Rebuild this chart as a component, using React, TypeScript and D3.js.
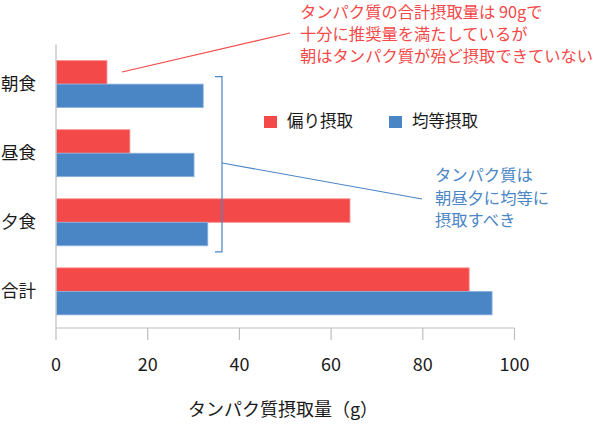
import React from "react";
import * as d3 from "d3";

const categories = ["朝食", "昼食", "夕食", "合計"];
const seriesNames = ["偏り摂取", "均等摂取"];
const biased = [11, 16, 64, 90];
const balanced = [32, 30, 33, 95];
const xTicks = [0, 20, 40, 60, 80, 100];
const xTitle = "タンパク質摂取量（g）";
const redNote = ["タンパク質の合計摂取量は 90gで", "十分に推奨量を満たしているが", "朝はタンパク質が殆ど摂取できていない"];
const blueNote = ["タンパク質は", "朝昼夕に均等に", "摂取すべき"];

const RED = "#f44949";
const BLUE = "#4a85c5";
const FONT = "'Noto Sans CJK JP', 'Noto Sans', sans-serif";

export default function App() {
  const W = 600, H = 430;
  const left = 56, right = 514.5, top = 47.5, bottom = 328;
  const x = d3.scaleLinear().domain([0, 100]).range([left, right]);
  const y = d3.scaleBand<string>().domain(categories).range([top, bottom]).paddingInner(0.32).paddingOuter(0.19);
  const bh = y.bandwidth() / 2;
  const series = [biased, balanced];
  const colors = [RED, BLUE];
  const strokes = ["#f88a8a", "#8fb3dc"];

  const bx = x(36.2);
  const bTop = (y("朝食") as number) + 16;
  const bBot = (y("夕食") as number) + y.bandwidth() + 6;

  return (
    <svg width={W} height={H} style={{ position: "absolute", left: 0, top: 0, background: "#fff" }} fontFamily={FONT}>
      {categories.map((c, i) =>
        series.map((s, k) => (
          <rect
            key={c + k}
            x={x(0) + 0.5}
            y={(y(c) as number) + k * bh}
            width={x(s[i]) - x(0)}
            height={bh}
            fill={colors[k]}
            stroke={strokes[k]}
            strokeWidth={0.8}
          />
        ))
      )}
      <line x1={x(0)} x2={x(0)} y1={top - 3} y2={bottom} stroke="#bdbdbd" strokeWidth={1.2} />
      <line x1={x(0)} x2={x(100)} y1={bottom} y2={bottom} stroke="#bdbdbd" strokeWidth={1.2} />
      {xTicks.map((t) => (
        <g key={t}>
          <line x1={x(t)} x2={x(t)} y1={bottom} y2={bottom + 12} stroke="#bdbdbd" strokeWidth={1.2} />
          <text x={x(t)} y={bottom + 38} textAnchor="middle" dominantBaseline="middle" fontSize={18} fill="#1a1a1a">
            {t}
          </text>
        </g>
      ))}
      {categories.map((c) => (
        <text key={c} x={36} y={(y(c) as number) + y.bandwidth() / 2 + 1} textAnchor="end" dominantBaseline="middle" fontSize={17.5} fill="#1a1a1a">
          {c}
        </text>
      ))}
      <text x={283} y={411} textAnchor="middle" dominantBaseline="middle" fontSize={18} fill="#1a1a1a">
        {xTitle}
      </text>
      {seriesNames.map((n, k) => (
        <g key={n} transform={`translate(${264 + k * 125},116)`}>
          <rect width={13} height={12} fill={colors[k]} />
          <text x={23} y={6.5} dominantBaseline="middle" fontSize={16.5} fill="#1a1a1a">
            {n}
          </text>
        </g>
      ))}
      <line x1={x(14.4)} y1={72} x2={290} y2={33} stroke={RED} strokeWidth={1.2} />
      {redNote.map((t, i) => (
        <text key={t} x={300} y={14 + i * 22} dominantBaseline="middle" fontSize={16.3} fill={RED}>
          {t}
        </text>
      ))}
      <path d={`M${bx - 7},${bTop}H${bx}V${bBot}H${bx - 7}`} fill="none" stroke={BLUE} strokeWidth={1.2} />
      <line x1={bx} y1={163} x2={422} y2={199} stroke={BLUE} strokeWidth={1.2} />
      {blueNote.map((t, i) => (
        <text key={t} x={435} y={177 + i * 22.5} dominantBaseline="middle" fontSize={16.3} fill={BLUE}>
          {t}
        </text>
      ))}
    </svg>
  );
}
